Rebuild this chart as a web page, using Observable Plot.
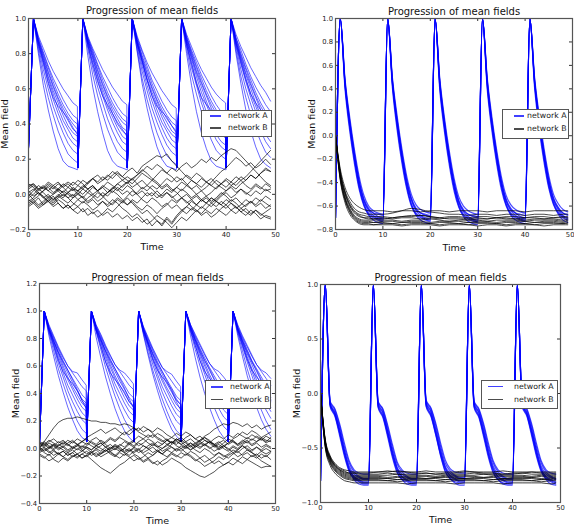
<!DOCTYPE html>
<html>
<head>
<meta charset="utf-8">
<script src="https://cdn.jsdelivr.net/npm/d3@7"></script>
<script src="https://cdn.jsdelivr.net/npm/@observablehq/plot@0.6"></script>
<style>
  html, body { margin: 0; padding: 0; background: #fff; }
  #fig { position: relative; width: 574px; height: 525px; overflow: hidden; font-family: "DejaVu Sans", sans-serif; }
  .panel { position: absolute; }
  .legend { position: absolute; background: #fff; border: 1px solid #555; box-sizing: border-box; }
  .legend .swatch { position: absolute; height: 1.4px; }
  .legend .label { position: absolute; font-size: 7.8px; color: #222; line-height: 1; transform: translateY(-50%); white-space: nowrap; }
</style>
</head>
<body>
<div id="fig"></div>
<script>
// ---- text ----
const title = "Progression of mean fields";
const xLabel = "Time";
const yLabel = "Mean field";
const seriesNames = ["network A", "network B"];

// ---- ticks ----
const xTicks = [0, 10, 20, 30, 40, 50];
const yTicksTL = [-0.2, 0, 0.2, 0.4, 0.6, 0.8, 1.0];
const yTicksTR = [-0.8, -0.6, -0.4, -0.2, 0, 0.2, 0.4, 0.6, 0.8, 1.0];
const yTicksBL = [-0.4, -0.2, 0, 0.2, 0.4, 0.6, 0.8, 1.0, 1.2];
const yTicksBR = [-1.0, -0.5, 0, 0.5, 1.0];

// ---- sample times ----
// network A in the left-hand runs: reset just before each stimulus
const tReset = [0,1,2,3,4,5,6,7,8,9,9.9, 10,11,12,13,14,15,16,17,18,19,19.9,
  20,21,22,23,24,25,26,27,28,29,29.9, 30,31,32,33,34,35,36,37,38,39,39.9,
  40,41,42,43,44,45,46,47,48,49];
const tStep = [0,1,2,3,4,5,6,7,8,9,10,11,12,13,14,15,16,17,18,19,20,21,22,23,24,
  25,26,27,28,29,30,31,32,33,34,35,36,37,38,39,40,41,42,43,44,45,46,47,48,49];
const tSparse = [0,1,2,3,4,5,6,7,8,10,12,14,16,18,20,22,24,26,28,30,32,34,36,38,40,42,44,46,48,49];

// ---- top-left run ----
const netA_TL = [
  [.26,1,.80,.62,.48,.36,.26,.19,.16,.15,.14, .15,1,.79,.61,.47,.35,.25,.19,.16,.15,.14, .14,1,.81,.63,.49,.37,.27,.20,.16,.15,.14, .15,1,.80,.62,.47,.35,.26,.19,.16,.15,.14, .14,1,.80,.63,.48,.36,.27,.20,.17,.15],
  [.26,1,.82,.67,.55,.45,.36,.29,.23,.20,.18, .16,1,.83,.68,.56,.46,.37,.30,.24,.21,.19, .15,1,.82,.66,.54,.44,.35,.28,.22,.19,.17, .16,1,.83,.68,.57,.47,.38,.31,.25,.22,.20, .15,1,.82,.67,.55,.45,.37,.30,.24,.21],
  [.26,1,.84,.71,.60,.50,.42,.35,.29,.25,.23, .15,1,.85,.72,.61,.52,.43,.36,.30,.26,.24, .15,1,.84,.70,.59,.49,.41,.34,.28,.24,.22, .16,1,.85,.72,.62,.52,.44,.37,.31,.27,.25, .15,1,.84,.71,.60,.51,.43,.36,.30,.26],
  [.26,1,.85,.74,.63,.54,.46,.39,.33,.29,.27, .15,1,.86,.75,.65,.56,.48,.41,.35,.30,.28, .15,1,.85,.73,.62,.53,.45,.38,.32,.28,.26, .15,1,.86,.75,.64,.55,.47,.40,.34,.30,.28, .15,1,.85,.74,.64,.55,.47,.40,.34,.30],
  [.26,1,.86,.76,.66,.57,.49,.42,.37,.32,.30, .15,1,.87,.77,.67,.58,.50,.44,.38,.33,.31, .15,1,.86,.75,.65,.56,.48,.41,.36,.31,.29, .15,1,.87,.77,.67,.58,.51,.44,.39,.34,.32, .15,1,.86,.76,.66,.57,.50,.43,.38,.33],
  [.26,1,.87,.77,.67,.59,.52,.45,.39,.35,.33, .15,1,.87,.78,.68,.60,.53,.46,.40,.36,.34, .15,1,.86,.76,.66,.58,.51,.44,.38,.34,.32, .15,1,.87,.78,.69,.61,.53,.46,.41,.36,.34, .15,1,.87,.77,.68,.60,.52,.45,.40,.36],
  [.26,1,.87,.78,.69,.61,.54,.47,.42,.37,.35, .15,1,.88,.79,.70,.62,.55,.48,.43,.38,.36, .15,1,.87,.77,.68,.60,.53,.46,.41,.36,.34, .15,1,.88,.79,.70,.63,.56,.49,.44,.39,.37, .15,1,.87,.78,.69,.62,.55,.48,.43,.39],
  [.26,1,.88,.79,.70,.62,.55,.49,.44,.40,.37, .15,1,.88,.80,.71,.63,.56,.50,.45,.41,.39, .15,1,.88,.78,.69,.61,.54,.48,.43,.39,.36, .15,1,.89,.80,.72,.64,.57,.51,.46,.42,.40, .15,1,.88,.79,.71,.63,.56,.50,.45,.41],
  [.26,1,.88,.80,.72,.64,.57,.51,.46,.42,.40, .15,1,.89,.81,.73,.65,.58,.52,.47,.43,.41, .15,1,.88,.79,.71,.63,.56,.50,.45,.41,.39, .15,1,.89,.81,.73,.66,.59,.53,.48,.44,.42, .15,1,.89,.80,.72,.65,.58,.52,.47,.43],
  [.26,1,.89,.81,.73,.66,.60,.54,.49,.45,.43, .15,1,.89,.82,.74,.67,.61,.55,.50,.46,.44, .15,1,.89,.81,.73,.65,.59,.53,.48,.44,.42, .15,1,.90,.82,.75,.68,.62,.56,.51,.47,.45, .15,1,.89,.82,.74,.67,.61,.56,.51,.47],
  [.26,1,.90,.83,.76,.70,.65,.60,.56,.52,.50, .15,1,.90,.83,.77,.71,.66,.61,.57,.53,.51, .15,1,.90,.82,.75,.69,.64,.59,.55,.51,.49, .15,1,.91,.84,.77,.71,.66,.61,.57,.54,.52, .15,1,.91,.84,.78,.72,.67,.62,.58,.53],
  [.26,1,.86,.75,.64,.55,.50,.47,.43,.38,.34, .15,1,.85,.74,.64,.56,.51,.46,.41,.37,.33, .15,1,.86,.76,.65,.56,.50,.47,.44,.39,.35, .15,1,.85,.74,.63,.55,.51,.48,.43,.38,.33, .15,1,.86,.75,.65,.57,.52,.48,.44,.40]
];
const netB_TL = [
  [.05,.06,.03,.04,.02,.05,.07,.04,.06,.03, .02,.04,.07,.09,.06,.08,.11,.09,.12,.10, .13,.15,.12,.16,.18,.20,.22,.21,.23,.19, .16,.13,.10,.08,.06,.04,.07,.05,.03,.06, .08,.05,.07,.10,.08,.11,.09,.12,.14,.13],
  [-.02,.00,.03,.01,-.02,.00,.02,-.01,.01,.04, .02,.05,.03,.00,.02,-.01,.01,.04,.02,.05, .07,.04,.06,.03,.05,.08,.06,.03,.05,.02, .04,.07,.05,.08,.06,.09,.07,.05,.08,.06, .04,.07,.05,.08,.10,.13,.16,.19,.22,.25],
  [.00,-.03,-.01,.02,.04,.01,.03,.06,.04,.07, .05,.08,.06,.09,.07,.10,.08,.11,.13,.10, .08,.06,.09,.12,.10,.08,.11,.14,.12,.15, .13,.16,.18,.15,.17,.20,.18,.21,.19,.22, .24,.26,.25,.22,.19,.16,.13,.10,.07,.05],
  [-.03,-.05,-.02,-.06,-.04,-.07,-.05,-.08,-.06,-.09, -.07,-.10,-.08,-.11,-.09,-.12,-.10,-.13,-.11,-.14, -.12,-.15,-.13,-.16,-.14,-.18,-.15,-.17,-.13,-.16, -.12,-.09,-.11,-.08,-.10,-.07,-.09,-.11,-.08,-.10, -.12,-.09,-.11,-.08,-.10,-.12,-.09,-.11,-.13,-.14],
  [.06,.04,.01,-.02,-.04,-.01,-.05,-.08,-.06,-.09, -.11,-.08,-.12,-.10,-.13,-.11,-.08,-.10,-.07,-.04, -.06,-.03,-.05,-.02,.01,-.01,.02,-.01,.01,-.02, .00,.03,.01,-.02,.00,-.03,-.05,-.02,-.04,-.06, -.03,-.05,-.08,-.06,-.03,-.05,-.02,-.04,-.01,-.03],
  [-.05,-.03,-.06,-.04,-.01,-.03,.00,-.02,.01,-.01, .02,.00,.03,.05,.02,.04,.01,.03,.06,.04, .07,.09,.06,.08,.05,.03,.00,-.02,.01,-.01, -.04,-.02,-.05,-.03,-.06,-.08,-.05,-.07,-.04,-.06, -.08,-.05,-.07,-.10,-.08,-.11,-.09,-.12,-.10,-.08],
  [.03,.05,.02,.04,.07,.05,.03,.01,-.02,.00, -.03,-.01,-.04,-.02,.01,-.01,-.04,-.06,-.03,-.05, -.02,-.05,-.08,-.11,-.09,-.12,-.15,-.18,-.14,-.17, -.13,-.10,-.07,-.09,-.06,-.03,-.05,-.02,-.04,-.01, .01,-.02,.00,.03,.01,-.01,.02,.00,.03,.01],
  [-.01,.02,.05,.03,.06,.04,.02,.05,.07,.05, .08,.06,.03,.05,.02,.04,.07,.05,.03,.00, .02,-.01,.01,.04,.02,.05,.03,.06,.09,.07, .10,.08,.11,.09,.12,.10,.07,.09,.06,.04, .02,.04,.01,.03,.00,.02,.05,.03,.06,.04],
  [.02,-.01,.01,-.02,.00,-.03,-.01,.02,.00,-.02, .01,-.02,-.05,-.03,-.06,-.04,-.07,-.05,-.02,-.04, -.01,.02,.00,-.03,-.05,-.02,-.04,-.07,-.05,-.08, -.06,-.09,-.07,-.04,-.06,-.03,-.01,-.04,-.02,.01, -.01,-.04,-.02,-.05,-.07,-.04,-.06,-.03,-.05,-.07],
  [-.06,-.04,-.07,-.05,-.02,-.04,-.01,-.03,-.05,-.02, .00,.03,.01,.04,.02,.05,.03,.01,.04,.02, .05,.03,.00,.02,-.01,.01,-.02,.00,.03,.01, .04,.02,.05,.03,.00,.02,-.01,.01,.04,.06, .09,.07,.10,.08,.05,.03,.06,.04,.02,.03],
  [.04,.06,.03,.05,.02,.00,.03,.01,.04,.02, .05,.03,.06,.09,.11,.08,.10,.13,.11,.08, .06,.09,.11,.14,.12,.09,.07,.04,.06,.03, .01,-.02,.00,-.03,-.01,-.04,-.02,-.05,-.03,.00, .02,.05,.03,.06,.08,.11,.09,.12,.15,.13],
  [-.04,-.02,.01,-.01,-.04,-.06,-.03,-.05,-.08,-.06, -.03,-.05,-.02,.00,-.02,.01,-.01,.02,.00,-.03, -.06,-.04,-.07,-.09,-.06,-.08,-.11,-.08,-.06,-.03, -.05,-.02,-.04,-.07,-.09,-.12,-.10,-.13,-.11,-.08, -.06,-.09,-.07,-.10,-.12,-.09,-.11,-.14,-.12,-.13],
  [.01,.03,.00,.02,.05,.03,.06,.04,.01,.03, .00,-.02,.01,-.01,-.04,-.02,.01,.03,.06,.08, .10,.08,.11,.13,.16,.14,.17,.15,.12,.10, .07,.09,.06,.03,.05,.02,.04,.07,.10,.13, .15,.18,.21,.19,.16,.18,.15,.17,.20,.17],
  [-.07,-.05,-.08,-.06,-.03,-.05,-.02,.00,-.02,-.05, -.07,-.04,-.06,-.09,-.07,-.04,-.06,-.03,-.05,-.08, -.10,-.13,-.11,-.14,-.17,-.15,-.12,-.14,-.16,-.19, -.16,-.13,-.15,-.12,-.09,-.11,-.08,-.05,-.07,-.04, -.06,-.03,-.05,-.08,-.06,-.04,-.07,-.05,-.08,-.06]
];

// ---- top-right run ----
const netA_TR = [
  [-.70,1,.40,.04,-.24,-.46,-.60,-.67,-.70,-.72, -.73,1,.41,.05,-.23,-.45,-.60,-.67,-.70,-.72, -.73,1,.39,.03,-.25,-.47,-.61,-.68,-.71,-.73, -.74,1,.40,.04,-.24,-.46,-.60,-.67,-.70,-.72, -.73,1,.41,.05,-.23,-.45,-.59,-.66,-.70,-.72],
  [-.70,1,.43,.07,-.21,-.44,-.58,-.66,-.69,-.71, -.72,1,.44,.08,-.20,-.43,-.58,-.66,-.69,-.71, -.72,1,.42,.06,-.22,-.44,-.59,-.67,-.70,-.72, -.73,1,.43,.07,-.21,-.43,-.58,-.66,-.69,-.71, -.72,1,.44,.08,-.20,-.43,-.57,-.65,-.69,-.71],
  [-.70,1,.45,.10,-.18,-.41,-.56,-.64,-.68,-.70, -.71,1,.46,.11,-.17,-.40,-.55,-.64,-.68,-.70, -.71,1,.45,.09,-.19,-.42,-.57,-.65,-.69,-.71, -.72,1,.46,.10,-.18,-.41,-.56,-.64,-.68,-.70, -.71,1,.46,.11,-.17,-.40,-.55,-.63,-.68,-.70],
  [-.70,1,.47,.13,-.15,-.38,-.54,-.62,-.66,-.69, -.70,1,.48,.14,-.14,-.37,-.53,-.62,-.66,-.68, -.69,1,.47,.12,-.16,-.39,-.55,-.63,-.67,-.69, -.70,1,.48,.13,-.15,-.38,-.54,-.62,-.66,-.69, -.70,1,.48,.14,-.14,-.37,-.53,-.61,-.66,-.68],
  [-.70,1,.49,.16,-.12,-.35,-.51,-.60,-.64,-.66, -.67,1,.50,.17,-.11,-.34,-.50,-.59,-.63,-.65, -.66,1,.49,.15,-.13,-.36,-.52,-.60,-.64,-.66, -.67,1,.50,.16,-.12,-.35,-.51,-.59,-.63,-.65, -.66,1,.50,.17,-.11,-.34,-.50,-.58,-.63,-.65],
  [-.70,1,.44,.09,-.20,-.43,-.59,-.68,-.72,-.74, -.75,1,.45,.10,-.19,-.42,-.59,-.68,-.72,-.74, -.75,1,.43,.08,-.21,-.44,-.60,-.69,-.73,-.75, -.76,1,.44,.09,-.20,-.43,-.59,-.68,-.72,-.74, -.75,1,.45,.10,-.19,-.42,-.58,-.67,-.72,-.74],
  [-.70,1,.46,.12,-.16,-.39,-.55,-.63,-.66,-.67, -.68,1,.47,.13,-.15,-.38,-.54,-.63,-.66,-.67, -.68,1,.46,.11,-.17,-.40,-.56,-.64,-.67,-.68, -.69,1,.47,.12,-.16,-.39,-.55,-.63,-.66,-.67, -.68,1,.47,.13,-.15,-.38,-.54,-.62,-.66,-.67]
];
const netB_TR = [
  [.00,-.28,-.44,-.53,-.58,-.61,-.63,-.64,-.64, -.64,-.65,-.64,-.64,-.65,-.64,-.64,-.65,-.64,-.64,-.64,-.65,-.64,-.64,-.64,-.65,-.64,-.64,-.64,-.64,-.64],
  [.00,-.30,-.47,-.56,-.62,-.65,-.66,-.67,-.67, -.67,-.66,-.64,-.62,-.63,-.65,-.66,-.67,-.67,-.68,-.67,-.67,-.68,-.67,-.67,-.68,-.67,-.67,-.68,-.67,-.67],
  [.00,-.32,-.49,-.58,-.64,-.67,-.68,-.69,-.69, -.69,-.70,-.69,-.69,-.68,-.69,-.70,-.69,-.69,-.70,-.69,-.69,-.70,-.69,-.69,-.70,-.69,-.69,-.70,-.69,-.69],
  [.00,-.33,-.50,-.60,-.66,-.69,-.70,-.70,-.71, -.70,-.71,-.70,-.70,-.71,-.70,-.71,-.70,-.70,-.71,-.70,-.71,-.70,-.70,-.71,-.70,-.70,-.71,-.70,-.70,-.70],
  [.00,-.34,-.52,-.62,-.68,-.71,-.72,-.72,-.72, -.72,-.72,-.73,-.72,-.72,-.71,-.72,-.73,-.72,-.72,-.72,-.73,-.72,-.72,-.72,-.73,-.72,-.72,-.72,-.73,-.72],
  [.00,-.35,-.53,-.63,-.69,-.72,-.73,-.73,-.74, -.73,-.73,-.74,-.73,-.73,-.74,-.73,-.73,-.73,-.74,-.73,-.73,-.74,-.73,-.73,-.73,-.74,-.73,-.73,-.74,-.73],
  [.00,-.36,-.54,-.64,-.70,-.73,-.74,-.74,-.74, -.74,-.75,-.74,-.74,-.74,-.75,-.74,-.74,-.75,-.74,-.74,-.74,-.75,-.74,-.74,-.75,-.74,-.74,-.74,-.75,-.74],
  [.00,-.37,-.55,-.65,-.71,-.74,-.75,-.75,-.76, -.75,-.75,-.76,-.75,-.75,-.75,-.76,-.75,-.75,-.76,-.75,-.75,-.75,-.76,-.75,-.75,-.76,-.75,-.75,-.75,-.75],
  [.00,-.38,-.57,-.67,-.72,-.75,-.76,-.76,-.76, -.76,-.76,-.77,-.76,-.76,-.76,-.77,-.76,-.76,-.76,-.77,-.76,-.76,-.77,-.76,-.76,-.76,-.77,-.76,-.76,-.76],
  [.00,-.31,-.48,-.59,-.65,-.68,-.70,-.71,-.71, -.71,-.70,-.69,-.68,-.68,-.69,-.70,-.71,-.71,-.72,-.71,-.71,-.70,-.71,-.71,-.72,-.71,-.71,-.71,-.72,-.71]
];

// ---- bottom-left run ----
const netA_BL = [
  [.03,1,.82,.67,.53,.41,.30,.21,.13,.08,.06, .05,1,.81,.66,.52,.40,.29,.20,.13,.08,.05, .05,1,.83,.68,.54,.42,.31,.22,.14,.09,.06, .06,1,.82,.66,.52,.40,.30,.21,.13,.08,.05, .05,1,.82,.67,.53,.41,.30,.21,.14,.09],
  [.03,1,.84,.71,.58,.47,.37,.28,.20,.14,.11, .05,1,.85,.72,.59,.48,.38,.29,.21,.15,.12, .05,1,.84,.70,.57,.46,.36,.27,.19,.13,.10, .05,1,.85,.72,.60,.49,.39,.30,.22,.16,.13, .05,1,.84,.71,.58,.47,.37,.28,.20,.14],
  [.03,1,.85,.74,.62,.52,.42,.34,.27,.21,.18, .05,1,.86,.75,.63,.53,.43,.35,.28,.22,.19, .05,1,.85,.73,.61,.51,.41,.33,.26,.20,.17, .05,1,.86,.75,.64,.54,.44,.36,.29,.23,.20, .05,1,.85,.74,.63,.53,.43,.35,.28,.22],
  [.03,1,.86,.76,.65,.55,.46,.39,.32,.26,.23, .05,1,.86,.77,.66,.56,.47,.40,.33,.27,.24, .05,1,.85,.75,.64,.54,.45,.38,.31,.25,.22, .05,1,.87,.77,.67,.57,.48,.41,.34,.28,.25, .05,1,.86,.76,.65,.56,.47,.40,.33,.27],
  [.03,1,.87,.77,.67,.58,.50,.43,.36,.30,.27, .05,1,.87,.78,.68,.59,.51,.44,.37,.31,.28, .05,1,.86,.76,.66,.57,.49,.42,.35,.29,.26, .05,1,.88,.78,.69,.60,.52,.45,.38,.32,.29, .05,1,.87,.77,.67,.58,.50,.43,.36,.30],
  [.03,1,.87,.78,.69,.60,.52,.45,.39,.33,.30, .05,1,.88,.79,.70,.61,.53,.46,.40,.34,.31, .05,1,.87,.77,.68,.59,.51,.44,.38,.32,.29, .05,1,.88,.79,.70,.62,.54,.47,.41,.35,.32, .05,1,.87,.78,.69,.61,.53,.46,.40,.34],
  [.03,1,.88,.79,.70,.62,.55,.48,.42,.36,.33, .05,1,.88,.80,.71,.63,.56,.49,.43,.37,.34, .05,1,.87,.78,.69,.61,.54,.47,.41,.35,.32, .05,1,.89,.80,.72,.64,.57,.50,.44,.38,.35, .05,1,.88,.79,.71,.63,.56,.49,.43,.37],
  [.03,1,.88,.80,.72,.64,.57,.51,.45,.39,.36, .05,1,.89,.81,.73,.65,.58,.52,.46,.40,.37, .05,1,.88,.79,.71,.63,.56,.50,.44,.38,.35, .05,1,.89,.81,.73,.66,.59,.53,.47,.41,.38, .05,1,.88,.80,.72,.64,.58,.52,.46,.40],
  [.03,1,.89,.81,.73,.66,.60,.55,.50,.45,.42, .05,1,.89,.82,.74,.67,.61,.56,.51,.46,.43, .05,1,.88,.80,.72,.65,.59,.54,.49,.44,.41, .05,1,.90,.82,.75,.68,.62,.57,.52,.47,.44, .05,1,.89,.81,.74,.67,.61,.56,.51,.46],
  [.03,1,.90,.82,.74,.67,.60,.56,.55,.50,.46, .05,1,.90,.83,.75,.68,.61,.57,.55,.51,.47, .05,1,.89,.81,.73,.66,.59,.56,.54,.49,.45, .05,1,.90,.83,.76,.69,.62,.58,.56,.52,.48, .05,1,.90,.82,.75,.68,.61,.57,.55,.51],
  [.03,1,.86,.75,.64,.56,.51,.47,.42,.35,.31, .05,1,.86,.74,.63,.55,.50,.46,.41,.34,.30, .05,1,.87,.76,.65,.57,.52,.48,.43,.36,.32, .05,1,.86,.75,.64,.56,.51,.47,.42,.35,.31, .05,1,.86,.75,.65,.57,.52,.48,.43,.36],
  [.03,1,.87,.78,.70,.63,.57,.50,.43,.35,.29, .05,1,.87,.79,.71,.64,.58,.51,.44,.36,.30, .05,1,.86,.77,.69,.62,.56,.49,.42,.34,.28, .05,1,.88,.79,.71,.64,.58,.51,.44,.37,.31, .05,1,.87,.78,.70,.63,.57,.50,.43,.35]
];
const netB_BL = [
  [.00,.05,.10,.15,.19,.21,.22,.22,.23,.22, .21,.20,.20,.19,.19,.18,.18,.17,.18,.17, .15,.12,.10,.08,.10,.07,.05,.07,.04,.06, .03,.05,.02,.04,.01,.03,.05,.02,.04,.06, .03,.05,.02,.04,.06,.03,.05,.07,.04,.06],
  [.01,-.02,.00,.03,.01,-.01,-.03,-.06,-.04,-.07, -.05,-.08,-.11,-.14,-.16,-.18,-.15,-.12,-.10,-.07, -.05,-.08,-.06,-.03,-.05,-.02,-.04,-.01,-.03,.00, -.02,.01,-.01,.02,.00,.03,.01,-.02,.00,.02, .00,-.03,-.01,.02,.00,-.02,.01,-.01,.02,.00],
  [-.02,.00,-.03,-.01,-.04,-.02,-.05,-.03,-.06,-.04, -.02,-.05,-.03,-.06,-.04,-.02,-.05,-.07,-.04,-.06, -.09,-.07,-.10,-.08,-.11,-.09,-.12,-.10,-.07,-.09, -.11,-.14,-.16,-.18,-.20,-.21,-.19,-.17,-.14,-.12, -.10,-.12,-.09,-.11,-.08,-.10,-.12,-.14,-.13,-.13],
  [.03,.01,.04,.02,.05,.03,.06,.04,.07,.05, .08,.10,.12,.14,.11,.13,.15,.12,.10,.13, .15,.13,.16,.14,.12,.15,.13,.10,.08,.06, .08,.05,.07,.04,.06,.09,.11,.14,.16,.18, .17,.19,.18,.16,.18,.15,.17,.14,.16,.17],
  [-.05,-.07,-.04,-.08,-.10,-.07,-.09,-.06,-.04,-.07, -.05,-.03,-.06,-.04,-.01,-.03,-.05,-.02,.00,-.02, .01,-.01,.02,.00,-.03,-.01,-.04,-.06,-.03,-.05, -.07,-.04,-.06,-.09,-.07,-.10,-.08,-.11,-.09,-.12, -.10,-.07,-.09,-.06,-.08,-.05,-.07,-.04,-.06,-.03],
  [.02,.04,.01,.03,.00,.02,-.01,.01,.03,.00, .02,.05,.03,.06,.04,.07,.05,.08,.06,.04, .02,.05,.07,.10,.08,.11,.09,.06,.04,.07, .05,.02,.04,.01,.03,.06,.04,.07,.09,.07, .10,.08,.11,.09,.07,.10,.08,.06,.09,.07],
  [.00,-.03,-.05,-.02,-.04,-.06,-.03,-.01,-.04,-.02, .01,-.01,.02,.00,-.02,.01,-.01,.02,.05,.03, .01,.04,.02,.00,.03,.01,-.02,.00,.03,.05, .03,.01,.04,.02,.05,.03,.00,.02,-.01,.01, .04,.06,.03,.05,.08,.06,.09,.07,.05,.08],
  [.04,.02,.05,.07,.04,.06,.03,.01,-.01,.02, .00,-.03,-.01,-.04,-.02,.00,.03,.01,-.02,.00, -.03,-.01,-.04,-.07,-.05,-.02,-.04,-.01,.01,-.02, .00,-.03,-.05,-.08,-.10,-.13,-.11,-.09,-.06,-.08, -.05,-.03,-.06,-.04,-.01,-.03,-.05,-.02,.00,-.02],
  [-.03,-.01,.01,-.01,.02,.04,.02,.05,.03,.01, .04,.02,.00,.02,.05,.08,.06,.09,.12,.10, .13,.15,.12,.14,.11,.08,.06,.03,.05,.02, .00,.02,-.01,.01,.04,.02,.05,.03,.01,.04, .07,.05,.03,.06,.04,.07,.05,.08,.06,.05],
  [.01,.03,.06,.04,.02,.05,.03,.00,.02,-.01, -.04,-.02,-.05,-.03,-.01,-.04,-.06,-.03,-.05,-.02, .00,-.03,-.01,.02,.04,.01,.03,.06,.04,.07, .05,.08,.10,.07,.09,.06,.04,.01,.03,.00, -.02,.01,-.01,.02,-.01,-.03,-.06,-.09,-.11,-.13],
  [-.04,-.06,-.09,-.07,-.04,-.02,-.05,-.03,.00,-.02, .01,-.01,.02,.04,.01,.03,.00,-.02,.00,.03, .05,.02,.04,.07,.05,.02,.00,.03,.01,-.01, .02,.00,.02,-.01,-.03,.00,-.02,-.05,-.03,-.06, -.04,-.01,-.03,.00,.02,-.01,.01,-.02,-.04,-.02],
  [.03,.05,.02,.00,.03,.01,.04,.06,.03,.05, .07,.04,.02,.04,.01,-.02,.00,.03,.01,.04, .06,.09,.07,.04,.02,.05,.03,.06,.08,.11, .09,.12,.10,.07,.05,.08,.06,.03,.05,.02, .04,.07,.09,.12,.10,.13,.11,.08,.10,.12],
  [-.01,.01,-.02,-.05,-.03,-.06,-.08,-.05,-.07,-.04, -.06,-.03,.00,-.02,.01,-.01,.02,.00,-.03,-.01, -.04,-.06,-.09,-.07,-.10,-.12,-.09,-.07,-.04,-.06, -.03,-.05,-.02,-.04,-.07,-.05,-.08,-.06,-.03,-.05, -.07,-.04,-.02,-.05,-.03,-.06,-.04,-.07,-.05,-.08],
  [.05,.03,.00,.02,-.01,.01,-.02,.00,.02,.05, .03,.06,.08,.05,.03,.00,.02,-.01,-.03,-.05, -.02,.00,-.03,-.01,.01,-.02,.00,.02,.05,.03, .06,.04,.01,.03,.06,.08,.05,.03,.00,.02, -.01,.02,.00,.03,.05,.02,.04,.01,.03,.01]
];

// ---- bottom-right run ----
const netA_BR = [
  [-.80,1,-.12,-.21,-.39,-.58,-.72,-.78,-.81,-.83, -.83,1,-.13,-.22,-.40,-.59,-.73,-.79,-.81,-.83, -.83,1,-.12,-.21,-.38,-.57,-.72,-.78,-.81,-.82, -.82,1,-.13,-.22,-.40,-.59,-.73,-.79,-.82,-.83, -.83,1,-.12,-.21,-.39,-.58,-.72,-.78,-.81,-.83],
  [-.80,1,-.10,-.19,-.36,-.55,-.70,-.76,-.79,-.81, -.81,1,-.11,-.20,-.37,-.56,-.70,-.76,-.79,-.81, -.81,1,-.10,-.19,-.36,-.55,-.69,-.75,-.78,-.80, -.80,1,-.11,-.20,-.37,-.56,-.70,-.76,-.79,-.81, -.81,1,-.10,-.19,-.36,-.55,-.70,-.76,-.79,-.81],
  [-.80,1,-.09,-.17,-.33,-.52,-.67,-.74,-.77,-.79, -.79,1,-.09,-.17,-.34,-.53,-.68,-.74,-.77,-.79, -.79,1,-.08,-.16,-.32,-.51,-.67,-.73,-.76,-.78, -.78,1,-.09,-.17,-.33,-.52,-.67,-.74,-.77,-.79, -.79,1,-.09,-.17,-.33,-.52,-.67,-.74,-.77,-.79],
  [-.80,1,-.08,-.15,-.30,-.49,-.64,-.72,-.76,-.78, -.78,1,-.08,-.15,-.31,-.50,-.65,-.72,-.76,-.78, -.78,1,-.07,-.14,-.29,-.48,-.64,-.71,-.75,-.77, -.77,1,-.08,-.15,-.30,-.49,-.64,-.72,-.76,-.78, -.78,1,-.08,-.15,-.30,-.49,-.64,-.72,-.76,-.78],
  [-.80,1,-.11,-.20,-.37,-.56,-.71,-.79,-.83,-.84, -.84,1,-.12,-.21,-.38,-.57,-.72,-.79,-.83,-.84, -.84,1,-.11,-.20,-.37,-.56,-.71,-.78,-.82,-.84, -.84,1,-.12,-.21,-.38,-.57,-.72,-.79,-.83,-.84, -.84,1,-.11,-.20,-.37,-.56,-.71,-.79,-.83,-.84],
  [-.80,1,-.07,-.14,-.28,-.46,-.62,-.70,-.73,-.74, -.74,1,-.07,-.14,-.29,-.47,-.63,-.70,-.73,-.74, -.74,1,-.06,-.13,-.27,-.45,-.61,-.69,-.72,-.73, -.73,1,-.07,-.14,-.28,-.46,-.62,-.70,-.73,-.74, -.74,1,-.07,-.14,-.28,-.46,-.62,-.70,-.73,-.74],
  [-.80,1,-.10,-.18,-.34,-.53,-.69,-.77,-.80,-.82, -.82,1,-.10,-.18,-.35,-.54,-.69,-.77,-.80,-.82, -.82,1,-.09,-.17,-.34,-.53,-.68,-.76,-.79,-.81, -.81,1,-.10,-.18,-.35,-.54,-.69,-.77,-.80,-.82, -.82,1,-.10,-.18,-.34,-.53,-.69,-.77,-.80,-.82]
];
const netB_BR = [
  [.00,-.42,-.57,-.64,-.68,-.70,-.71,-.72,-.72, -.72,-.72,-.71,-.72,-.72,-.72,-.71,-.72,-.72,-.72,-.71,-.72,-.72,-.72,-.71,-.72,-.72,-.72,-.72,-.72,-.72],
  [.00,-.43,-.58,-.65,-.69,-.71,-.73,-.73,-.74, -.74,-.74,-.73,-.74,-.74,-.74,-.73,-.74,-.74,-.74,-.74,-.73,-.74,-.74,-.74,-.74,-.73,-.74,-.74,-.74,-.74],
  [.00,-.44,-.59,-.66,-.70,-.73,-.74,-.75,-.75, -.75,-.75,-.75,-.74,-.75,-.75,-.75,-.76,-.75,-.75,-.75,-.75,-.74,-.75,-.75,-.75,-.75,-.76,-.75,-.75,-.75],
  [.00,-.45,-.60,-.67,-.71,-.74,-.75,-.76,-.76, -.76,-.76,-.77,-.76,-.76,-.76,-.76,-.77,-.76,-.76,-.76,-.76,-.77,-.76,-.76,-.76,-.76,-.77,-.76,-.76,-.76],
  [.00,-.46,-.61,-.68,-.72,-.75,-.76,-.77,-.77, -.77,-.77,-.78,-.77,-.77,-.77,-.78,-.77,-.77,-.77,-.78,-.77,-.77,-.77,-.78,-.77,-.77,-.77,-.78,-.77,-.77],
  [.00,-.47,-.62,-.69,-.73,-.76,-.77,-.78,-.78, -.78,-.78,-.78,-.79,-.78,-.78,-.78,-.78,-.79,-.78,-.78,-.78,-.78,-.79,-.78,-.78,-.78,-.78,-.79,-.78,-.78],
  [.00,-.48,-.63,-.70,-.74,-.77,-.78,-.79,-.79, -.79,-.79,-.80,-.79,-.79,-.79,-.79,-.80,-.79,-.79,-.79,-.79,-.80,-.79,-.79,-.79,-.79,-.80,-.79,-.79,-.79],
  [.00,-.49,-.64,-.71,-.75,-.78,-.79,-.80,-.80, -.80,-.80,-.80,-.81,-.80,-.80,-.80,-.80,-.81,-.80,-.80,-.80,-.80,-.81,-.80,-.80,-.80,-.80,-.81,-.80,-.80],
  [.00,-.50,-.66,-.73,-.77,-.80,-.81,-.82,-.82, -.82,-.82,-.82,-.82,-.83,-.82,-.82,-.82,-.82,-.83,-.82,-.82,-.82,-.82,-.83,-.82,-.82,-.82,-.82,-.83,-.82],
  [.00,-.44,-.59,-.66,-.70,-.72,-.73,-.73,-.73, -.73,-.72,-.72,-.71,-.72,-.73,-.73,-.74,-.73,-.73,-.72,-.72,-.73,-.73,-.74,-.73,-.73,-.72,-.73,-.73,-.73]
];

// ---- layout of the four panels ----
const panels = [
  {left: 0,   top: 0,   width: 287, height: 262, ml: 28, mr: 12, mt: 18, mb: 33,
   yDomain: [-0.2, 1.0], yTicks: yTicksTL, tA: tReset, a: netA_TL, tB: tStep, b: netB_TL,
   curve: "linear", aOpacity: 0.6, bOpacity: 0.68, aWidth: 1, titleDy: -7.3, xlabDy: 17, edgeLabel: false,
   legend: {left: 201, top: 110, width: 71, height: 27, sx: 8, sw: 11, tx: 26, rows: [6, 18]}},
  {left: 287, top: 0,   width: 287, height: 262, ml: 48, mr: 2, mt: 18, mb: 33,
   yDomain: [-0.8, 1.0], yTicks: yTicksTR, tA: tStep, a: netA_TR, tB: tSparse, b: netB_TR,
   curve: "monotone-x", aOpacity: 0.7, bOpacity: 0.7, aWidth: 1.2, titleDy: -7.1, xlabDy: 18, edgeLabel: true,
   legend: {left: 502, top: 109, width: 67, height: 30, sx: 11, sw: 10, tx: 24, rows: [7, 20]}},
  {left: 0,   top: 262, width: 287, height: 263, ml: 39, mr: 12, mt: 21, mb: 22,
   yDomain: [-0.4, 1.2], yTicks: yTicksBL, tA: tReset, a: netA_BL, tB: tStep, b: netB_BL,
   curve: "linear", aOpacity: 0.6, bOpacity: 0.68, aWidth: 1, titleDy: -6.2, xlabDy: 17.8, edgeLabel: false,
   legend: {left: 205, top: 380, width: 66, height: 29, sx: 5, sw: 12, tx: 24, rows: [7, 19.5]}},
  {left: 287, top: 262, width: 287, height: 263, ml: 33, mr: 14, mt: 22, mb: 23,
   yDomain: [-1.0, 1.0], yTicks: yTicksBR, tA: tStep, a: netA_BR, tB: tSparse, b: netB_BR,
   curve: "monotone-x", aOpacity: 0.7, bOpacity: 0.75, aWidth: 1.2, titleDy: -6.5, xlabDy: 17.7, edgeLabel: false,
   legend: {left: 481, top: 380, width: 77, height: 29, sx: 6, sw: 15, tx: 32, rows: [6.5, 19.5]}}
];

const blue = "#0000ff";
const black = "#000000";
const tickLen = 3;
const tickFmt = d3.format(".1f");
const xFmt = d3.format("d");

function toRows(times, series) {
  const rows = [];
  series.forEach((vals, s) => {
    vals.forEach((v, i) => { if (i < times.length) rows.push({t: times[i], v, s}); });
  });
  return rows;
}

const fig = document.getElementById("fig");

for (const p of panels) {
  const iw = p.width - p.ml - p.mr;
  const ih = p.height - p.mt - p.mb;
  // when the frame sits at the page edge, the last x label is right-aligned to stay visible
  const lastX = xTicks[xTicks.length - 1];
  const xAxes = p.edgeLabel
    ? [Plot.axisX({ticks: xTicks.filter(d => d !== lastX), tickSize: 0, tickPadding: 3, fontSize: 6.8, label: null, tickFormat: xFmt}),
       Plot.axisX({ticks: [lastX], tickSize: 0, tickPadding: 3, fontSize: 6.8, label: null, tickFormat: xFmt, textAnchor: "end", dx: 2})]
    : [Plot.axisX({ticks: xTicks, tickSize: 0, tickPadding: 3, fontSize: 6.8, label: null, tickFormat: xFmt})];
  const chart = Plot.plot({
    width: p.width, height: p.height,
    marginLeft: p.ml, marginRight: p.mr, marginTop: p.mt, marginBottom: p.mb,
    style: {fontFamily: "DejaVu Sans, sans-serif", background: "transparent", color: "#222", overflow: "visible"},
    x: {domain: [0, 50]},
    y: {domain: p.yDomain},
    marks: [
      Plot.line(toRows(p.tA, p.a), {x: "t", y: "v", z: "s", stroke: blue, strokeOpacity: p.aOpacity, strokeWidth: p.aWidth, curve: p.curve, clip: true}),
      Plot.line(toRows(p.tB, p.b), {x: "t", y: "v", z: "s", stroke: black, strokeOpacity: p.bOpacity, strokeWidth: 1, curve: p.curve, clip: true}),
      // inward tick marks on all four sides
      Plot.tickY(p.yTicks, {y: d => d, insetRight: iw - tickLen, stroke: "#333"}),
      Plot.tickY(p.yTicks, {y: d => d, insetLeft: iw - tickLen, stroke: "#333"}),
      Plot.tickX(xTicks, {x: d => d, insetTop: ih - tickLen, stroke: "#333"}),
      Plot.tickX(xTicks, {x: d => d, insetBottom: ih - tickLen, stroke: "#333"}),
      Plot.frame({stroke: "#555", strokeWidth: 1.2}),
      ...xAxes,
      Plot.axisY({ticks: p.yTicks, tickSize: 0, tickPadding: 2.5, fontSize: 6.8, label: null, tickFormat: tickFmt}),
      Plot.text([title], {text: d => d, frameAnchor: "top", dy: p.titleDy, lineAnchor: "middle", fontSize: 10, fill: "#111"}),
      Plot.text([xLabel], {text: d => d, frameAnchor: "bottom", dy: p.xlabDy, lineAnchor: "middle", fontSize: 9.5, fill: "#111"}),
      Plot.text([yLabel], {text: d => d, frameAnchor: "left", dx: -24, rotate: -90, textAnchor: "middle", lineAnchor: "middle", fontSize: 9.5, fill: "#111"})
    ]
  });
  const holder = document.createElement("div");
  holder.className = "panel";
  holder.style.left = p.left + "px";
  holder.style.top = p.top + "px";
  holder.appendChild(chart);
  fig.appendChild(holder);

  // legend box
  const L = p.legend;
  const box = document.createElement("div");
  box.className = "legend";
  Object.assign(box.style, {left: L.left + "px", top: L.top + "px", width: L.width + "px", height: L.height + "px"});
  [blue, black].forEach((c, i) => {
    const sw = document.createElement("div");
    sw.className = "swatch";
    Object.assign(sw.style, {left: L.sx + "px", top: (L.rows[i] - 1.7) + "px", width: L.sw + "px", background: c, opacity: i ? 0.7 : 0.75});
    const lb = document.createElement("div");
    lb.className = "label";
    lb.textContent = seriesNames[i];
    Object.assign(lb.style, {left: L.tx + "px", top: (L.rows[i] - 1) + "px"});
    box.appendChild(sw);
    box.appendChild(lb);
  });
  fig.appendChild(box);
}
</script>
</body>
</html>
